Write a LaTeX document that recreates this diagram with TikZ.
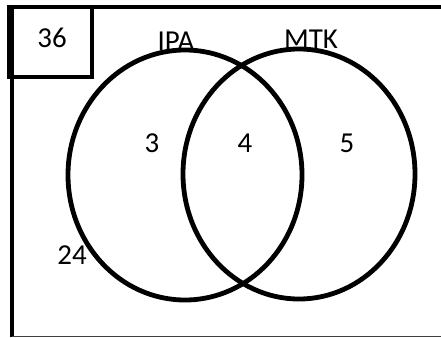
\documentclass[tikz,border=0pt]{standalone}
\usepackage{fontspec}
\setmainfont{Carlito}
\begin{document}
\begin{tikzpicture}[x=1bp,y=-1bp,
  thick line/.style={line width=4.8bp,black},
  lbl/.style={inner sep=0pt,font=\fontsize{29}{32}\selectfont}]
\useasboundingbox (0,0) rectangle (441,337);
% frame
\draw[thick line] (12,337) -- (12,7) -- (441,7);
\draw[line width=1.2bp,black!75] (12,336.4) -- (441,336.4);
% universe count box
\draw[thick line] (9,7) rectangle (92,77);
\node[lbl] (u) at (52,38) {36};
% sets
\draw[thick line] (185,175) ellipse [x radius=117, y radius=125];
\draw[thick line] (299,174) ellipse [x radius=116, y radius=125];
\node[lbl] (ipa) at (176,41) {IPA};
\node[lbl] (mtk) at (311,39) {MTK};
\node[lbl] (a) at (152,143) {3};
\node[lbl] (b) at (245,143) {4};
\node[lbl] (c) at (347,143) {5};
\node[lbl] (d) at (72,255) {24};
\end{tikzpicture}
\end{document}
